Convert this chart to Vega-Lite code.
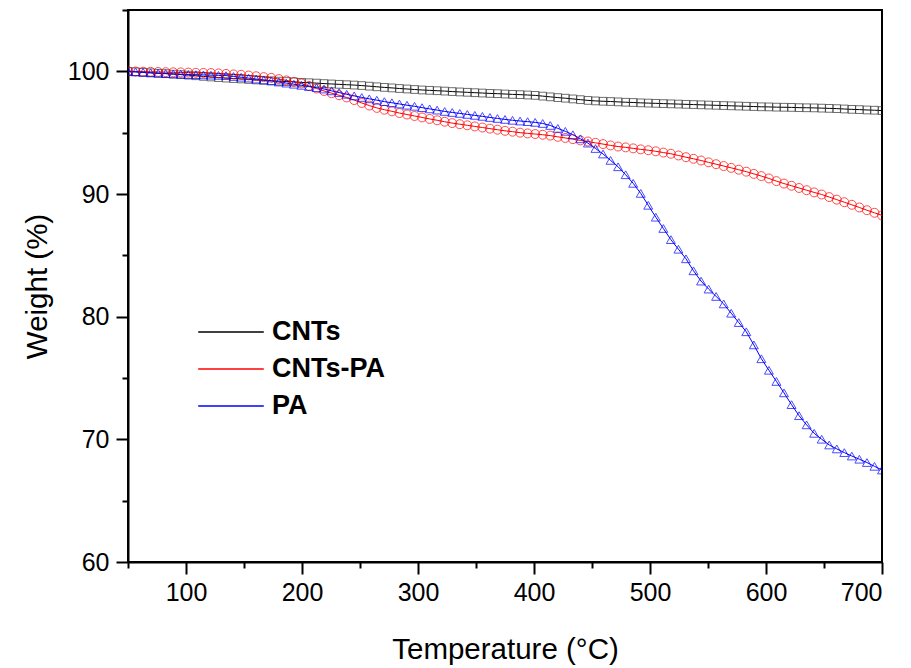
{
  "$schema": "https://vega.github.io/schema/vega-lite/v6.json",
  "width": 754,
  "height": 552,
  "autosize": {"type": "none"},
  "padding": {"left": 128, "top": 10, "right": 29, "bottom": 106},
  "background": "white",
  "config": {
    "font": "Liberation Sans",
    "view": {"stroke": "black", "strokeWidth": 2},
    "axis": {"grid": false, "domainColor": "black", "domainWidth": 2, "tickColor": "black", "tickWidth": 2, "labelColor": "black", "titleColor": "black", "labelFont": "Liberation Sans", "titleFont": "Liberation Sans", "labelFontSize": 25, "titleFontSize": 29.5, "titleFontWeight": "normal"}
  },
  "data": {
    "values": [
      {"T":50,"CNTs":100,"CNTs-PA":100,"PA":100},
      {"T":56.5,"CNTs":99.96,"CNTs-PA":99.99,"PA":99.96},
      {"T":63,"CNTs":99.92,"CNTs-PA":99.97,"PA":99.92},
      {"T":69.5,"CNTs":99.88,"CNTs-PA":99.96,"PA":99.88},
      {"T":76,"CNTs":99.84,"CNTs-PA":99.95,"PA":99.85},
      {"T":82.5,"CNTs":99.81,"CNTs-PA":99.93,"PA":99.82},
      {"T":89,"CNTs":99.77,"CNTs-PA":99.92,"PA":99.79},
      {"T":95.5,"CNTs":99.73,"CNTs-PA":99.91,"PA":99.77},
      {"T":102,"CNTs":99.69,"CNTs-PA":99.9,"PA":99.74},
      {"T":108.5,"CNTs":99.64,"CNTs-PA":99.88,"PA":99.73},
      {"T":115,"CNTs":99.59,"CNTs-PA":99.87,"PA":99.71},
      {"T":121.5,"CNTs":99.54,"CNTs-PA":99.86,"PA":99.69},
      {"T":128,"CNTs":99.49,"CNTs-PA":99.83,"PA":99.67},
      {"T":134.5,"CNTs":99.45,"CNTs-PA":99.79,"PA":99.65},
      {"T":141,"CNTs":99.41,"CNTs-PA":99.75,"PA":99.58},
      {"T":147.5,"CNTs":99.38,"CNTs-PA":99.72,"PA":99.52},
      {"T":154,"CNTs":99.34,"CNTs-PA":99.66,"PA":99.45},
      {"T":160.5,"CNTs":99.3,"CNTs-PA":99.6,"PA":99.37},
      {"T":167,"CNTs":99.27,"CNTs-PA":99.53,"PA":99.3},
      {"T":173.5,"CNTs":99.23,"CNTs-PA":99.47,"PA":99.22},
      {"T":180,"CNTs":99.2,"CNTs-PA":99.37,"PA":99.13},
      {"T":186.5,"CNTs":99.17,"CNTs-PA":99.26,"PA":99.04},
      {"T":193,"CNTs":99.14,"CNTs-PA":99.14,"PA":98.95},
      {"T":199.5,"CNTs":99.1,"CNTs-PA":99.01,"PA":98.86},
      {"T":206,"CNTs":99.07,"CNTs-PA":98.81,"PA":98.76},
      {"T":212.5,"CNTs":99.04,"CNTs-PA":98.6,"PA":98.67},
      {"T":219,"CNTs":99.0,"CNTs-PA":98.4,"PA":98.56},
      {"T":225.5,"CNTs":98.97,"CNTs-PA":98.22,"PA":98.41},
      {"T":232,"CNTs":98.94,"CNTs-PA":98.05,"PA":98.27},
      {"T":238.5,"CNTs":98.91,"CNTs-PA":97.87,"PA":98.13},
      {"T":245,"CNTs":98.88,"CNTs-PA":97.66,"PA":98.0},
      {"T":251.5,"CNTs":98.84,"CNTs-PA":97.42,"PA":97.87},
      {"T":258,"CNTs":98.79,"CNTs-PA":97.21,"PA":97.76},
      {"T":264.5,"CNTs":98.74,"CNTs-PA":97.02,"PA":97.65},
      {"T":271,"CNTs":98.69,"CNTs-PA":96.87,"PA":97.53},
      {"T":277.5,"CNTs":98.65,"CNTs-PA":96.74,"PA":97.44},
      {"T":284,"CNTs":98.6,"CNTs-PA":96.6,"PA":97.34},
      {"T":290.5,"CNTs":98.56,"CNTs-PA":96.48,"PA":97.24},
      {"T":297,"CNTs":98.52,"CNTs-PA":96.36,"PA":97.15},
      {"T":303.5,"CNTs":98.48,"CNTs-PA":96.24,"PA":97.04},
      {"T":310,"CNTs":98.45,"CNTs-PA":96.12,"PA":96.94},
      {"T":316.5,"CNTs":98.42,"CNTs-PA":96.01,"PA":96.84},
      {"T":323,"CNTs":98.39,"CNTs-PA":95.89,"PA":96.73},
      {"T":329.5,"CNTs":98.35,"CNTs-PA":95.78,"PA":96.65},
      {"T":336,"CNTs":98.32,"CNTs-PA":95.69,"PA":96.57},
      {"T":342.5,"CNTs":98.29,"CNTs-PA":95.6,"PA":96.49},
      {"T":349,"CNTs":98.26,"CNTs-PA":95.51,"PA":96.41},
      {"T":355.5,"CNTs":98.23,"CNTs-PA":95.42,"PA":96.33},
      {"T":362,"CNTs":98.2,"CNTs-PA":95.33,"PA":96.24},
      {"T":368.5,"CNTs":98.18,"CNTs-PA":95.24,"PA":96.16},
      {"T":375,"CNTs":98.15,"CNTs-PA":95.15,"PA":96.08},
      {"T":381.5,"CNTs":98.12,"CNTs-PA":95.08,"PA":96.01},
      {"T":388,"CNTs":98.1,"CNTs-PA":95.0,"PA":95.95},
      {"T":394.5,"CNTs":98.07,"CNTs-PA":94.94,"PA":95.9},
      {"T":401,"CNTs":98.04,"CNTs-PA":94.89,"PA":95.84},
      {"T":407.5,"CNTs":97.98,"CNTs-PA":94.83,"PA":95.75},
      {"T":414,"CNTs":97.92,"CNTs-PA":94.76,"PA":95.59},
      {"T":420.5,"CNTs":97.86,"CNTs-PA":94.66,"PA":95.35},
      {"T":427,"CNTs":97.81,"CNTs-PA":94.57,"PA":95.11},
      {"T":433.5,"CNTs":97.75,"CNTs-PA":94.47,"PA":94.83},
      {"T":440,"CNTs":97.69,"CNTs-PA":94.37,"PA":94.5},
      {"T":446.5,"CNTs":97.63,"CNTs-PA":94.28,"PA":94.15},
      {"T":453,"CNTs":97.59,"CNTs-PA":94.17,"PA":93.71},
      {"T":459.5,"CNTs":97.56,"CNTs-PA":94.07,"PA":93.26},
      {"T":466,"CNTs":97.54,"CNTs-PA":93.96,"PA":92.74},
      {"T":472.5,"CNTs":97.51,"CNTs-PA":93.87,"PA":92.22},
      {"T":479,"CNTs":97.48,"CNTs-PA":93.8,"PA":91.57},
      {"T":485.5,"CNTs":97.46,"CNTs-PA":93.72,"PA":90.87},
      {"T":492,"CNTs":97.43,"CNTs-PA":93.64,"PA":90.05},
      {"T":498.5,"CNTs":97.41,"CNTs-PA":93.57,"PA":89.08},
      {"T":505,"CNTs":97.39,"CNTs-PA":93.48,"PA":88.11},
      {"T":511.5,"CNTs":97.37,"CNTs-PA":93.38,"PA":87.19},
      {"T":518,"CNTs":97.35,"CNTs-PA":93.28,"PA":86.28},
      {"T":524.5,"CNTs":97.33,"CNTs-PA":93.14,"PA":85.5},
      {"T":531,"CNTs":97.31,"CNTs-PA":93.0,"PA":84.72},
      {"T":537.5,"CNTs":97.29,"CNTs-PA":92.87,"PA":83.74},
      {"T":544,"CNTs":97.27,"CNTs-PA":92.73,"PA":82.9},
      {"T":550.5,"CNTs":97.25,"CNTs-PA":92.58,"PA":82.25},
      {"T":557,"CNTs":97.23,"CNTs-PA":92.43,"PA":81.65},
      {"T":563.5,"CNTs":97.21,"CNTs-PA":92.28,"PA":81.04},
      {"T":570,"CNTs":97.19,"CNTs-PA":92.13,"PA":80.28},
      {"T":576.5,"CNTs":97.17,"CNTs-PA":91.98,"PA":79.52},
      {"T":583,"CNTs":97.15,"CNTs-PA":91.82,"PA":78.77},
      {"T":589.5,"CNTs":97.13,"CNTs-PA":91.64,"PA":77.7},
      {"T":596,"CNTs":97.11,"CNTs-PA":91.46,"PA":76.57},
      {"T":602.5,"CNTs":97.1,"CNTs-PA":91.27,"PA":75.63},
      {"T":609,"CNTs":97.08,"CNTs-PA":91.05,"PA":74.72},
      {"T":615.5,"CNTs":97.07,"CNTs-PA":90.85,"PA":73.79},
      {"T":622,"CNTs":97.06,"CNTs-PA":90.67,"PA":72.83},
      {"T":628.5,"CNTs":97.04,"CNTs-PA":90.49,"PA":71.93},
      {"T":635,"CNTs":97.03,"CNTs-PA":90.31,"PA":71.18},
      {"T":641.5,"CNTs":97.02,"CNTs-PA":90.13,"PA":70.49},
      {"T":648,"CNTs":97.0,"CNTs-PA":89.96,"PA":70.01},
      {"T":654.5,"CNTs":96.98,"CNTs-PA":89.75,"PA":69.54},
      {"T":661,"CNTs":96.96,"CNTs-PA":89.54,"PA":69.22},
      {"T":667.5,"CNTs":96.93,"CNTs-PA":89.33,"PA":68.92},
      {"T":674,"CNTs":96.9,"CNTs-PA":89.12,"PA":68.64},
      {"T":680.5,"CNTs":96.88,"CNTs-PA":88.9,"PA":68.38},
      {"T":687,"CNTs":96.85,"CNTs-PA":88.68,"PA":68.11},
      {"T":693.5,"CNTs":96.83,"CNTs-PA":88.47,"PA":67.8},
      {"T":700,"CNTs":96.8,"CNTs-PA":88.25,"PA":67.5}
    ]
  },
  "transform": [{"fold": ["CNTs", "CNTs-PA", "PA"], "as": ["series", "weight"]}],
  "encoding": {
    "x": {
      "field": "T", "type": "quantitative",
      "scale": {"domain": [50, 700], "nice": false, "zero": false},
      "axis": {
        "title": "Temperature (°C)",
        "values": [50, 100, 150, 200, 250, 300, 350, 400, 450, 500, 550, 600, 650, 700],
        "labelExpr": "datum.value % 100 === 0 ? datum.label : ''",
        "tickSize": {"condition": {"test": "datum.value % 100 === 0", "value": 12}, "value": 6},
        "labelPadding": 6,
        "titlePadding": 30
      }
    },
    "y": {
      "field": "weight", "type": "quantitative",
      "scale": {"domain": [60, 105], "nice": false, "zero": false},
      "axis": {
        "title": "Weight (%)",
        "values": [60, 65, 70, 75, 80, 85, 90, 95, 100, 105],
        "labelExpr": "datum.value % 10 === 0 && datum.value <= 100 ? datum.label : ''",
        "tickSize": {"condition": {"test": "datum.value % 10 === 0", "value": 12}, "value": 6},
        "labelPadding": 7,
        "titlePadding": 15
      }
    }
  },
  "layer": [
    {
      "mark": {"type": "line", "strokeWidth": 1, "clip": true},
      "encoding": {
        "color": {
          "field": "series", "type": "nominal",
          "scale": {"domain": ["CNTs", "CNTs-PA", "PA"], "range": ["#000000", "#ff0000", "#0000ff"]},
          "legend": {
            "title": null,
            "orient": "none",
            "legendX": 69,
            "legendY": 307,
            "symbolType": "stroke",
            "symbolSize": 4300,
            "symbolStrokeWidth": 1.5,
            "clipHeight": 30,
            "labelFont": "Liberation Sans",
            "labelFontSize": 27,
            "labelFontWeight": "bold",
            "labelColor": "black",
            "labelOffset": 7,
            "rowPadding": 7,
            "padding": 0
          }
        }
      }
    },
    {
      "transform": [{"filter": "datum.series === 'CNTs'"}],
      "mark": {"type": "point", "shape": "square", "filled": false, "stroke": "#333333", "strokeWidth": 1, "size": 60, "clip": true}
    },
    {
      "transform": [{"filter": "datum.series === 'CNTs-PA'"}],
      "mark": {"type": "point", "shape": "circle", "filled": false, "stroke": "#ff0000", "strokeWidth": 1, "size": 80, "clip": true}
    },
    {
      "transform": [{"filter": "datum.series === 'PA'"}],
      "mark": {"type": "point", "shape": "triangle-up", "filled": false, "stroke": "#0000ff", "strokeWidth": 1, "size": 80, "clip": true}
    }
  ]
}
